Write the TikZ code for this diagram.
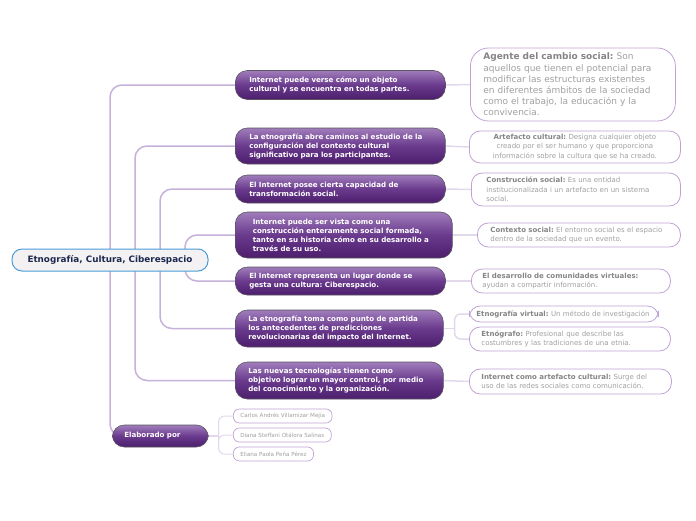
\documentclass[tikz,border=0pt]{standalone}
\usepackage{fontspec}
\setmainfont{DejaVu Sans}
\usetikzlibrary{positioning}
\usepackage{xcolor}
\definecolor{ideatop}{HTML}{A07DBB}
\definecolor{ideamid}{HTML}{6A3A8D}
\definecolor{ideabot}{HTML}{4C1E6C}
\definecolor{idealine}{HTML}{5A5560}
\definecolor{rootfill}{HTML}{F4F1F2}
\definecolor{rootline}{HTML}{4A9BD8}
\definecolor{roottext}{HTML}{1B2950}
\definecolor{noteline}{HTML}{BFA3D6}
\definecolor{notehead}{HTML}{858585}
\definecolor{notetext}{HTML}{A0A0A0}
\definecolor{branchcol}{HTML}{C6B1DB}
\definecolor{twigcol}{HTML}{E2D8EC}
\pgfdeclarelayer{bg}
\pgfsetlayers{bg,main}
\newcommand{\hd}[1]{\textbf{\color{notehead}#1}}
\frenchspacing

\begin{document}
\begin{tikzpicture}[x=1pt,y=-1pt,
    idea/.style={draw=idealine, line width=0.6pt, rounded corners=12pt,
        top color=ideatop, bottom color=ideabot, middle color=ideamid,
        text=white, font=\fontsize{7.1}{9}\selectfont\bfseries,
        align=left, anchor=west, inner xsep=14pt, inner ysep=2pt, text width=182pt},
    note/.style={draw=noteline, line width=0.8pt, fill=white, rounded corners=11pt,
        text=notetext, font=\fontsize{7}{9.5}\selectfont,
        align=left, anchor=west, inner ysep=2pt},
    who/.style={draw=noteline, line width=0.7pt, fill=white, rounded corners=6pt,
        text=notetext, font=\fontsize{5.6}{7}\selectfont,
        anchor=west, inner xsep=7pt, minimum height=14pt},
    branch/.style={draw=branchcol, line width=1.5pt, rounded corners=12pt},
    twig/.style={draw=twigcol, line width=1.5pt, rounded corners=6pt}]
    \useasboundingbox (0,0) rectangle (696,520);

    % Central topic
    \node[draw=rootline, line width=1pt, fill=rootfill, rounded corners=10pt,
        minimum width=196pt, minimum height=22pt, text=roottext,
        font=\fontsize{8.8}{10}\selectfont\bfseries] (root) at (110,260)
        {Etnografía, Cultura, Ciberespacio};

    % Main ideas
    \node[idea, minimum height=29pt] (c1) at (235,85)
        {Internet puede verse cómo un objeto\\cultural y se encuentra en todas partes.};
    \node[idea, minimum height=36pt] (c2) at (235,146)
        {La etnografía abre caminos al estudio de la\\configuración del contexto cultural\\significativo para los participantes.};
    \node[idea, minimum height=28pt] (c3) at (235,189)
        {El Internet posee cierta capacidad de\\transformación social.};
    \node[idea, minimum height=46pt, inner xsep=17.5pt] (c4) at (235,235)
        {Internet puede ser vista como una\\construcción enteramente social formada,\\tanto en su historia cómo en su desarrollo a\\través de su uso.};
    \node[idea, minimum height=28pt] (c5) at (235,281)
        {El Internet representa un lugar donde se\\gesta una cultura: Ciberespacio.};
    \node[idea, minimum height=37pt, inner xsep=13pt] (c6) at (235,328.5)
        {La etnografía toma como punto de partida\\los antecedentes de predicciones\\revolucionarias del impacto del Internet.};
    \node[idea, minimum height=37pt, inner xsep=13pt] (c7) at (235,380.5)
        {Las nuevas tecnologías tienen como\\objetivo lograr un mayor control, por medio\\del conocimiento y la organización.};
    \node[idea, minimum height=22pt, inner xsep=12pt, text width=72pt] (elab) at (112,436)
        {Elaborado por};

    % Notes
    \node[note, rounded corners=18pt, inner xsep=13pt, text width=179pt, minimum height=73pt,
        font=\fontsize{9}{11.2}\selectfont] (nt1) at (470,84.5)
        {\hd{Agente del cambio social:} Son\\aquellos que tienen el potencial para\\modificar las estructuras existentes\\en diferentes ámbitos de la sociedad\\como el trabajo, la educación y la\\convivencia.};
    \node[note, align=center, inner xsep=10pt, text width=191pt, minimum height=32pt] (nt2) at (469,147)
        {\hd{Artefacto cultural:} Designa cualquier objeto\\creado por el ser humano y que proporciona\\información sobre la cultura que se ha creado.};
    \node[note, inner xsep=15pt, text width=179pt, minimum height=33pt] (nt3) at (471,189.5)
        {\hd{Construcción social:} Es una entidad\\institucionalizada i un artefacto en un sistema\\social.};
    \node[note, inner xsep=13pt, text width=177pt, minimum height=24pt] (nt4) at (477,235)
        {\hd{Contexto social:} El entorno social es el espacio\\dentro de la sociedad que un evento.};
    \node[note, inner xsep=11pt, text width=177pt, minimum height=24pt] (nt5) at (471,281)
        {\hd{El desarrollo de comunidades virtuales:}\\ayudan a compartir información.};
    \node[note, inner xsep=7pt, text width=175pt, minimum height=16pt] (nt6a) at (469,314)
        {\hd{Etnografía virtual:} Un método de investigación};
    \node[note, inner xsep=12pt, text width=177pt, minimum height=24pt] (nt6b) at (469,339)
        {\hd{Etnógrafo:} Profesional que describe las\\costumbres y las tradiciones de una etnia.};
    \node[note, inner xsep=12pt, text width=178pt, minimum height=25pt] (nt7) at (469,381.5)
        {\hd{Internet como artefacto cultural:} Surge del\\uso de las redes sociales como comunicación.};

    % Authors
    \foreach \i/\y/\nm in {1/416/Carlos Andrés Villamizar Mejía,
                            2/435/Diana Steffani Otálora Salinas,
                            3/454/Eliana Paola Peña Pérez} {
        \node[who] (p\i) at (233,\y) {\nm};
    }

    % Connections
    \coordinate (f6) at ([xshift=11pt]c6.east);
    \coordinate (f8) at ([xshift=10pt]elab.east);
    \begin{pgfonlayer}{bg}
        \fill[white] (0,0) rectangle (696,520);
        \draw[branch] (root.center) |- (c1.west);
        \draw[branch] (root.center) |- ([xshift=14pt]elab.west);
        \draw[branch] ([xshift=25pt]root.center) |- (c2.west);
        \draw[branch] ([xshift=25pt]root.center) |- (c7.west);
        \draw[branch] ([xshift=50pt]root.center) |- (c3.west);
        \draw[branch] ([xshift=50pt]root.center) |- (c6.west);
        \draw[branch] ([xshift=75pt]root.center) |- (c4.west);
        \draw[branch] ([xshift=75pt]root.center) |- (c5.west);
        \draw[twig] (c1.east) -- (nt1.west);
        \draw[twig] (c2.east) -- (nt2.west);
        \draw[twig] (c3.east) -- (nt3.west);
        \draw[twig] (c4.east) -- (nt4.west);
        \draw[twig] (c5.east) -- (nt5.west);
        \draw[twig] (c6.east) -- (f6);
        \draw[twig] (f6) |- (nt6a.west);
        \draw[twig] (f6) |- (nt6b.west);
        \draw[twig] (c7.east) -- (nt7.west);
        \draw[twig] (elab.east) -- (f8);
        \foreach \i in {1,2,3} {
            \draw[twig, line width=1pt] (f8) |- (p\i.west);
        }
    \end{pgfonlayer}
\end{tikzpicture}
\end{document}
